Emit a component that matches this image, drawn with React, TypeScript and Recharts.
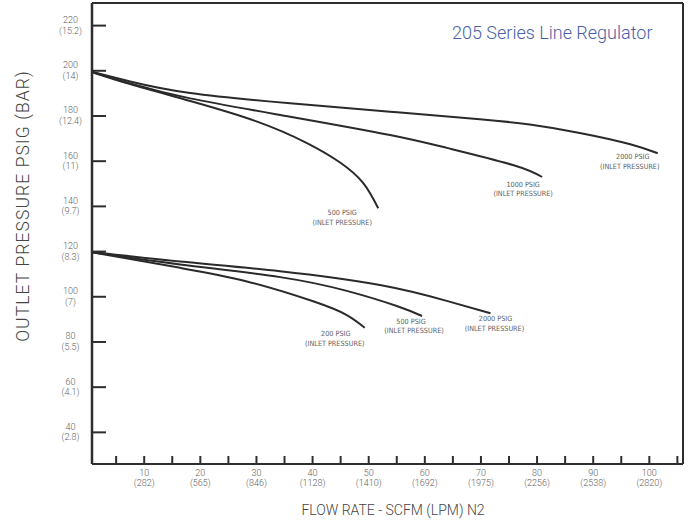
import React from 'react';
import { LineChart, Line, XAxis, YAxis, Label } from 'recharts';

// ---- axis ticks / labels ----
const X_TICKS = [5, 10, 15, 20, 25, 30, 35, 40, 45, 50, 55, 60, 65, 70, 75, 80, 85, 90, 95, 100, 105];
const X_LPM: Record<number, string> = {
  10: '282', 20: '565', 30: '846', 40: '1128', 50: '1410',
  60: '1692', 70: '1975', 80: '2256', 90: '2538', 100: '2820',
};
const Y_TICKS = [40, 60, 80, 100, 120, 140, 160, 180, 200, 220];
const Y_BAR: Record<number, string> = {
  220: '15.2', 200: '14', 180: '12.4', 160: '11', 140: '9.7',
  120: '8.3', 100: '7', 80: '5.5', 60: '4.1', 40: '2.8',
};

// ---- series (flow SCFM, outlet PSIG) ----
const upper2000 = [
  { x: 0, y: 200 }, { x: 7.5, y: 195.3 }, { x: 18.2, y: 190.2 }, { x: 36.0, y: 185.6 },
  { x: 53.8, y: 181.9 }, { x: 69.8, y: 178.6 }, { x: 78.7, y: 176.2 }, { x: 87.6, y: 172.5 },
  { x: 96.6, y: 167.5 }, { x: 101.5, y: 163.5 },
];
const upper1000 = [
  { x: 0, y: 200 }, { x: 7.5, y: 194.4 }, { x: 18.2, y: 187.8 }, { x: 36.0, y: 179.7 },
  { x: 53.8, y: 171.6 }, { x: 63.9, y: 165.9 }, { x: 75.7, y: 158.3 }, { x: 80.9, y: 153.0 },
];
const upper500 = [
  { x: 0, y: 200 }, { x: 7.5, y: 194.1 }, { x: 18.2, y: 186.6 }, { x: 30.0, y: 177.6 },
  { x: 39.0, y: 168.0 }, { x: 44.9, y: 159.4 }, { x: 49.0, y: 150.4 }, { x: 51.7, y: 139.2 },
];
const lower2000 = [
  { x: 0, y: 120 }, { x: 16.4, y: 115.6 }, { x: 34.2, y: 111.3 }, { x: 52.0, y: 105.2 },
  { x: 63.9, y: 98.2 }, { x: 71.7, y: 92.7 },
];
const lower500 = [
  { x: 0, y: 120 }, { x: 16.4, y: 114.3 }, { x: 34.2, y: 108.7 }, { x: 46.1, y: 102.6 },
  { x: 55.0, y: 95.9 }, { x: 59.5, y: 91.5 },
];
const lower200 = [
  { x: 0, y: 120 }, { x: 16.4, y: 112.8 }, { x: 28.3, y: 106.8 }, { x: 40.1, y: 98.0 },
  { x: 46.1, y: 91.9 }, { x: 49.3, y: 86.3 },
];

const AXIS = '#2e2e2e';
const LINE = '#2a2a2a';
const TXT = '#5e5e5e';
const FONT = "Roboto, 'DejaVu Sans', sans-serif";
const NARROW = "'Liberation Sans Narrow', 'DejaVu Sans Condensed', Roboto, sans-serif";

function endLabel(n: number, l1: string, dx1: number, dx2: number, dy1: number, dy2: number) {
  return (props: any) => {
    if (props.index !== n - 1) return null;
    const { x, y } = props;
    return (
      <g>
        <text x={x + dx1} y={y + dy1 - 0.5} textAnchor="middle" dominantBaseline="central"
          fontSize={7.2} fill={TXT} fontFamily={NARROW}>{l1}</text>
        <text x={x + dx2} y={y + dy2 + 0.5} textAnchor="middle" dominantBaseline="central"
          fontSize={7.2} fill={TXT} fontFamily={NARROW}>(INLET PRESSURE)</text>
      </g>
    );
  };
}

const LeftTick = (props: any) => {
  const { x, y, payload } = props;
  const v = payload.value as number;
  return (
    <g>
      <line x1={x} x2={x + 14} y1={y} y2={y} stroke={AXIS} strokeWidth={2} />
      <text x={x - 21.5} y={y - 5.5} textAnchor="middle" dominantBaseline="central"
        fontSize={9} fill={TXT} fontFamily={FONT} fontWeight={300}>{v}</text>
      <text x={x - 21.5} y={y + 5} textAnchor="middle" dominantBaseline="central"
        fontSize={9} fill={TXT} fontFamily={FONT} fontWeight={300}>({Y_BAR[v]})</text>
    </g>
  );
};

const RightTick = (props: any) => {
  const { x, y } = props;
  return <line x1={x} x2={x - 12} y1={y} y2={y} stroke={AXIS} strokeWidth={2} />;
};

const BottomTick = (props: any) => {
  const { x, y, payload } = props;
  const v = payload.value as number;
  const lpm = X_LPM[v];
  return (
    <g>
      <line x1={x} x2={x} y1={y} y2={y - 8} stroke={AXIS} strokeWidth={2} />
      {lpm && (
        <>
          <text x={x} y={y + 8.7} textAnchor="middle" dominantBaseline="central"
            fontSize={9} fill={TXT} fontFamily={FONT} fontWeight={300}>{v}</text>
          <text x={x} y={y + 19.2} textAnchor="middle" dominantBaseline="central"
            fontSize={9} fill={TXT} fontFamily={FONT} fontWeight={300}>({lpm})</text>
        </>
      )}
    </g>
  );
};

const TopTick = (props: any) => {
  const { x, y } = props;
  return <line x1={x} x2={x} y1={y} y2={y + 9} stroke={AXIS} strokeWidth={2} />;
};

const series = [
  { data: upper2000, fn: endLabel(upper2000.length, '2000 PSIG', -25, -28, 4, 12.5) },
  { data: upper1000, fn: endLabel(upper1000.length, '1000 PSIG', -19, -19, 7.5, 16) },
  { data: upper500, fn: endLabel(upper500.length, '500 PSIG', -36, -36, 5, 14) },
  { data: lower2000, fn: endLabel(lower2000.length, '2000 PSIG', 5, 4, 6, 14.5) },
  { data: lower500, fn: endLabel(lower500.length, '500 PSIG', -11, -8, 6, 14.5) },
  { data: lower200, fn: endLabel(lower200.length, '200 PSIG', -29, -30, 6.5, 15) },
];

export default function App() {
  return (
    <div style={{ position: 'absolute', left: 0, top: 0, width: 689, height: 521, background: '#fff' }}>
      <LineChart width={689} height={521} margin={{ top: 2, right: 5, bottom: 56, left: 91 }}>
        <XAxis xAxisId="bottom" dataKey="x" type="number" domain={[0.7, 106]} allowDataOverflow
          ticks={X_TICKS} interval={0} height={1} tickSize={0} tickMargin={0} tickLine={false}
          axisLine={{ stroke: AXIS, strokeWidth: 2 }} tick={<BottomTick />}>
          <Label content={() => (
            <text x={393} y={510} textAnchor="middle" dominantBaseline="central" fontSize={14}
              fill="#444" fontFamily={FONT} fontWeight={300}>FLOW RATE - SCFM (LPM) N2</text>
          )} />
        </XAxis>
        <XAxis xAxisId="top" orientation="top" type="number" domain={[0.7, 106]} allowDataOverflow
          ticks={X_TICKS} interval={0} height={1} tickSize={0} tickMargin={0} tickLine={false}
          axisLine={{ stroke: AXIS, strokeWidth: 2 }} tick={<TopTick />} />
        <YAxis yAxisId="left" type="number" domain={[26, 230]} ticks={Y_TICKS} interval={0}
          width={1} tickSize={0} tickMargin={0} tickLine={false}
          axisLine={{ stroke: AXIS, strokeWidth: 2.5 }} tick={<LeftTick />}>
          <Label content={() => (
            <text x={23} y={206} textAnchor="middle" dominantBaseline="central" fontSize={17.5}
              fill="#444" fontFamily={FONT} fontWeight={300} letterSpacing={1.1}
              transform="rotate(-90 23 206)">
              OUTLET PRESSURE PSIG (BAR)
            </text>
          )} />
        </YAxis>
        <YAxis yAxisId="right" orientation="right" type="number" domain={[26, 230]} ticks={Y_TICKS}
          interval={0} width={1} tickSize={0} tickMargin={0} tickLine={false}
          axisLine={{ stroke: AXIS, strokeWidth: 2 }} tick={<RightTick />} />
        {series.map((s, i) => (
          <Line key={i} data={s.data} dataKey="y" xAxisId="bottom" yAxisId="left" type="natural"
            dot={false} stroke={LINE} strokeWidth={2} isAnimationActive={false} label={s.fn} />
        ))}
      </LineChart>
      <div style={{
        position: 'absolute', left: 452, top: 22, fontFamily: FONT, fontWeight: 300,
        fontSize: 18, color: '#4a5ea8', whiteSpace: 'nowrap',
      }}>205 Series Line Regulator</div>
    </div>
  );
}
